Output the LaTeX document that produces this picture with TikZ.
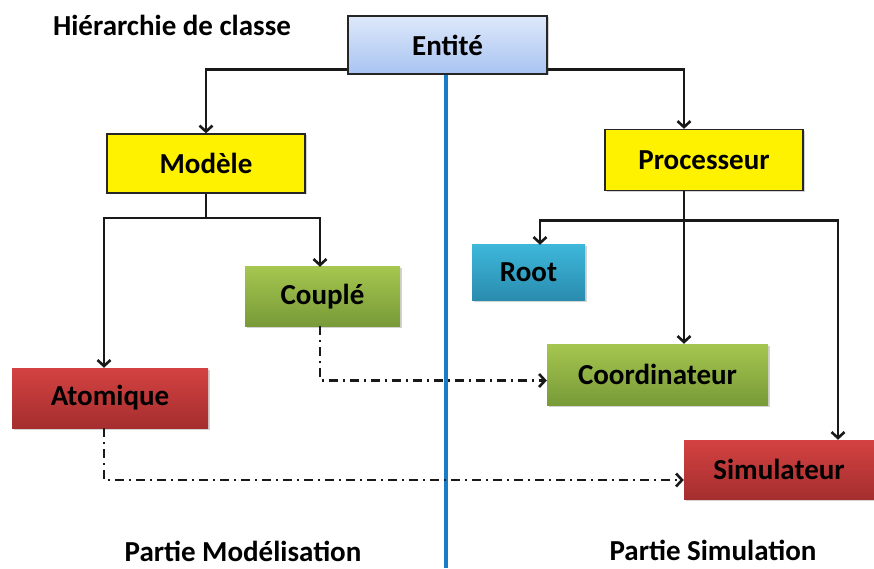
\documentclass[tikz,border=0pt]{standalone}
\usepackage{fontspec}
\setmainfont{Carlito}
\usetikzlibrary{arrows.meta,shadows}

\definecolor{entTop}{HTML}{DEE8FA}
\definecolor{entBot}{HTML}{A8C4F2}
\definecolor{grnTop}{HTML}{A5C64F}
\definecolor{grnBot}{HTML}{789A38}
\definecolor{redTop}{HTML}{D44242}
\definecolor{redBot}{HTML}{A52E2E}
\definecolor{rootTop}{HTML}{3DB7DA}
\definecolor{rootBot}{HTML}{2A8CAE}
\definecolor{divider}{HTML}{1A7CC4}

\tikzset{
  lbl/.style={font=\fontsize{29}{32}\selectfont\bfseries},
  box/.style={lbl, inner sep=0pt, drop shadow={shadow xshift=1.5pt, shadow yshift=-1.5pt, opacity=0.35}},
  entbox/.style={box, draw=black!85, line width=1.3pt, top color=entTop, bottom color=entBot},
  yelbox/.style={box, draw=black!85, line width=1.3pt, fill=yellow},
  grnbox/.style={box, top color=grnTop, bottom color=grnBot},
  redbox/.style={box, top color=redTop, bottom color=redBot},
  rootbox/.style={box, top color=rootTop, bottom color=rootBot},
  tip/.style={-{Straight Barb[length=6pt,width=13pt,line width=2.6pt]}},
  line/.style={draw=black!90, line width=2.6pt},
  conn/.style={line, tip},
  dashconn/.style={draw=black!90, line width=2.6pt,
    dash pattern=on 9pt off 5pt on 2pt off 5pt, tip},
  caption/.style={lbl, inner sep=0pt}
}

\begin{document}
\begin{tikzpicture}[x=1pt,y=1pt]
\useasboundingbox (0,0) rectangle (874,568);

% vertical separator between modelling and simulation
\coordinate (divtop) at (446,494);
\coordinate (divbot) at (446,0);
\draw[divider, line width=3.2pt] (divtop) -- (divbot);

% class boxes
\node[entbox, minimum width=199pt, minimum height=58pt] (ent) at (447.5,523) {Entité};
\node[yelbox, minimum width=198pt, minimum height=59pt] (mod) at (206,404.5) {Modèle};
\node[yelbox, minimum width=198pt, minimum height=61pt] (proc) at (704,408) {Processeur};
\node[grnbox, minimum width=155pt, minimum height=59pt] (couple) at (322.5,271.5) {Couplé};
\node[rootbox, minimum width=113pt, minimum height=55pt] (root) at (528.5,295.5) {Root};
\node[grnbox, minimum width=221pt, minimum height=61pt] (coord) at (657.5,193.5) {Coordinateur};
\node[redbox, minimum width=196pt, minimum height=60pt] (atom) at (110,170) {Atomique};
\node[redbox, minimum width=190pt, minimum height=59pt] (sim) at (779,98.5) {Simulateur};

% captions
\node[caption] (title) at (172,543) {Hiérarchie de classe};
\node[caption] (pmod) at (243,17) {Partie Modélisation};
\node[caption] (psim) at (713,18) {Partie Simulation};

% inheritance from Entité
\draw[conn] ([yshift=5pt]ent.south west) -| (mod.north);
\draw[conn] ([yshift=5pt]ent.south east) -| ([xshift=-20pt]proc.north);

% Modèle branches
\coordinate (mbus) at (206,350);
\draw[line] (mod.south) -- (mbus);
\draw[conn] (mbus) -| ([xshift=-6pt]atom.north);
\draw[conn] (mbus) -| ([xshift=-2.5pt]couple.north);

% Processeur branches
\coordinate (pbus) at (684,347.5);
\draw[conn] (proc.south -| pbus) -- (coord.north -| pbus);
\draw[conn] (pbus) -| ([xshift=11.5pt]root.north);
\draw[conn] (pbus) -| ([xshift=59pt]sim.north);

% model to simulator correspondence
\draw[dashconn] ([xshift=-2.5pt]couple.south) |- ([yshift=-6pt]coord.west);
\draw[dashconn] ([xshift=-6pt]atom.south) |- ([yshift=-10.5pt]sim.west);
\end{tikzpicture}
\end{document}
